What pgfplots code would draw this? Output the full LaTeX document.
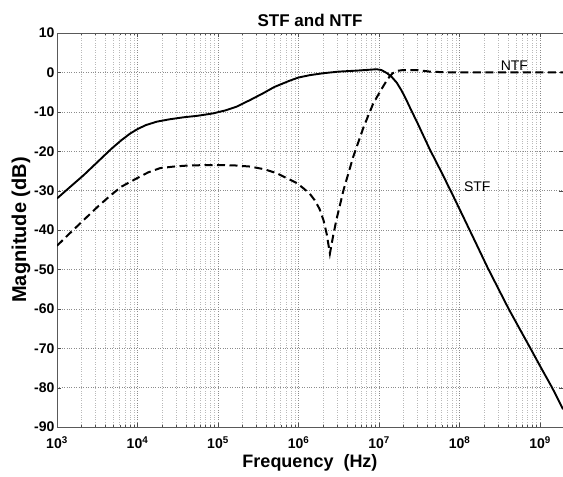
\documentclass[border=0pt]{standalone}
\usepackage{pgfplots}
\pgfplotsset{compat=1.18}
\usepackage{fontspec}
\setmainfont{Liberation Sans}
\begin{document}
\begin{tikzpicture}
\begin{axis}[
  at={(0,0)}, anchor=south west,
  scale only axis, width=506pt, height=394pt,
  xmode=log, xmin=1e3, xmax=1.93e9,
  ymin=-90, ymax=10, ytick={-90,-80,...,10},
  xtick={1e3,1e4,1e5,1e6,1e7,1e8,1e9},
  xticklabels={\textbf{10}\textsuperscript{3},\textbf{10}\textsuperscript{4},\textbf{10}\textsuperscript{5},\textbf{10}\textsuperscript{6},\textbf{10}\textsuperscript{7},\textbf{10}\textsuperscript{8},\textbf{10}\textsuperscript{9}},
  /pgf/number format/assume math mode=true,
  ticklabel style={font=\fontsize{14}{16}\selectfont\bfseries},
  xticklabel style={yshift=-6pt},
  yticklabel style={xshift=1pt},
  title={\textbf{STF and NTF}},
  title style={font=\fontsize{17}{19}\selectfont, yshift=-3pt},
  xlabel={\textbf{Frequency\ \ (Hz)}},
  ylabel={\textbf{Magnitude (dB)}},
  xlabel style={font=\fontsize{18}{20}\selectfont, yshift=1pt},
  ylabel style={font=\fontsize{20}{22}\selectfont, yshift=-3pt},
  grid=both,
  major grid style={dotted, gray!90},
  minor grid style={dotted, gray!55},
  tick align=inside,
  major tick length=4pt, minor tick length=2pt,
  tick style={black!70},
  axis line style={black!65, line width=0.9pt},
  clip=true,
]
\addplot[black, line width=1.9pt] coordinates {
(1e3,-32.0) (1.413e3,-29.3) (2.138e3,-26.1) (3.162e3,-22.8) (4.786e3,-19.3)
(6.310e3,-17.2) (8.128e3,-15.5) (1e4,-14.4) (1.259e4,-13.4) (1.738e4,-12.5)
(2.512e4,-11.9) (3.715e4,-11.4) (5.623e4,-11.0) (8.710e4,-10.4) (1.259e5,-9.6)
(1.698e5,-8.7) (2.512e5,-7.0) (3.631e5,-5.3) (5.012e5,-3.7) (7.762e5,-2.1)
(1e6,-1.3) (1.380e6,-0.7) (2.042e6,-0.2) (3.162e6,0.2) (5.248e6,0.45)
(7.943e6,0.7) (9.333e6,0.8) (1.072e7,0.6) (1.259e7,-0.2) (1.445e7,-1.2)
(1.660e7,-2.6) (1.905e7,-4.6) (2.188e7,-7.0) (2.512e7,-9.6) (2.951e7,-12.5)
(3.548e7,-16.0) (4.266e7,-19.5) (6.026e7,-25.5) (8.318e7,-31.3) (1.122e8,-36.8)
(1.622e8,-43.6) (2.239e8,-49.6) (3.162e8,-55.6) (4.074e8,-60.0) (5.623e8,-65.2)
(7.586e8,-70.0) (1e9,-74.5) (1.413e9,-80.0) (1.93e9,-85.5)
};
\addplot[black, line width=2pt, dash pattern=on 8pt off 4.5pt] coordinates {
(1e3,-44.0) (1.413e3,-41.0) (2.138e3,-37.5) (3.162e3,-34.2) (4.571e3,-31.3)
(6.310e3,-29.0) (9.772e3,-26.9) (1.349e4,-25.4) (1.905e4,-24.3) (2.818e4,-23.9)
(4.467e4,-23.6) (9.550e4,-23.5) (1.585e5,-23.6) (2.512e5,-23.9) (3.802e5,-24.6)
(5.370e5,-25.6) (7.079e5,-26.8) (9.550e5,-28.1) (1.148e6,-29.4) (1.380e6,-30.8)
(1.585e6,-32.4) (1.820e6,-34.6) (2.042e6,-37.5) (2.239e6,-41.0) (2.455e6,-46.0)
(2.692e6,-41.5) (2.951e6,-37.5) (3.631e6,-29.8) (4.786e6,-21.4) (6.457e6,-13.8)
(8.511e6,-7.8) (1.122e7,-3.6) (1.288e7,-1.6) (1.479e7,-0.2) (1.698e7,0.4)
(1.995e7,0.6) (2.951e7,0.6) (4.266e7,0.2) (6.310e7,0.05) (1e8,0) (1.93e9,0)
};
\node[font=\fontsize{14}{16}\selectfont] at (axis cs:4.8e8,1.8) {NTF};
\node[font=\fontsize{14}{16}\selectfont] at (axis cs:1.66e8,-29) {STF};
\end{axis}
\pgfresetboundingbox
\path[use as bounding box] (-57pt,-50pt) rectangle (506pt,427pt);
\end{tikzpicture}
\end{document}
